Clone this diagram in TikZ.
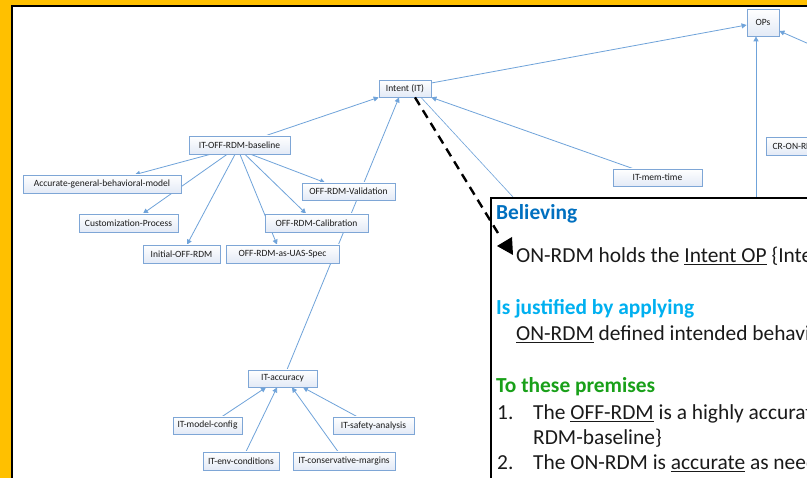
\documentclass[tikz,border=0pt]{standalone}
\usepackage{fontspec}
\setmainfont{Carlito}
\usetikzlibrary{arrows.meta,calc}
\definecolor{frameorange}{HTML}{FFC000}
\definecolor{lineblue}{HTML}{6FA3DA}
\definecolor{boxblue}{HTML}{7EA6D6}
\definecolor{boxfill}{HTML}{E3EAF6}
\definecolor{titleblue}{HTML}{0070C0}
\definecolor{titlecyan}{HTML}{00B0F0}
\definecolor{titlegreen}{HTML}{19A019}
\definecolor{bodytext}{HTML}{1A1A1A}
\pgfdeclarelayer{back}
\pgfdeclarelayer{bg}
\pgfsetlayers{back,bg,main}
\tikzset{
  tbox/.style={draw=boxblue, line width=0.8pt, top color=white, bottom color=boxfill,
    font=\fontsize{9.5}{10}\selectfont, text=bodytext, inner sep=0pt, minimum height=18pt, align=center},
  conn/.style={draw=lineblue, line width=0.8pt, -{Triangle[length=5pt,width=5pt]}},
  plainconn/.style={draw=lineblue, line width=0.6pt},
  bigtitle/.style={font=\fontsize{21.4}{25}\selectfont\bfseries, anchor=base west, inner sep=0pt},
  bodyline/.style={font=\fontsize{21.4}{25}\selectfont, text=bodytext, anchor=base west, inner sep=0pt}
}
\begin{document}
\begin{tikzpicture}[x=1pt,y=-1pt]
\useasboundingbox (0,0) rectangle (807,478);
\clip (0,0) rectangle (807,478);
% frame
\begin{pgfonlayer}{back}
\fill[frameorange] (0,0) rectangle (807,478);
\fill[white] (11,5) rectangle (807,478);
\draw[line width=2pt] (12,478) -- (12,6) -- (807,6);
\end{pgfonlayer}

% nodes
\node[tbox, minimum width=32pt, minimum height=27pt] (ops) at (763,22.5) {OPs};
\node[tbox, minimum width=52pt, minimum height=17pt] (intent) at (405,88.5) {Intent (IT)};
\node[tbox, minimum width=101pt] (base) at (239.5,145) {IT-OFF-RDM-baseline};
\node[tbox, minimum width=158pt] (agbm) at (102,184) {Accurate-general-behavioral-model};
\node[tbox, minimum width=93pt, minimum height=17pt] (val) at (348.5,191.5) {OFF-RDM-Validation};
\node[tbox, minimum width=99pt] (cust) at (128.5,223) {Customization-Process};
\node[tbox, minimum width=103pt] (cal) at (316.5,223) {OFF-RDM-Calibration};
\node[tbox, minimum width=77pt] (init) at (181.5,254) {Initial-OFF-RDM};
\node[tbox, minimum width=113pt] (uas) at (282.5,254) {OFF-RDM-as-UAS-Spec};
\node[tbox, minimum width=69pt, minimum height=17pt] (itacc) at (282.5,378.5) {IT-accuracy};
\node[tbox, minimum width=69pt, minimum height=17pt] (mc) at (207.5,425.5) {IT-model-config};
\node[tbox, minimum width=81pt, minimum height=17pt] (saf) at (373.5,425.5) {IT-safety-analysis};
\node[tbox, minimum width=76pt] (env) at (241,461) {IT-env-conditions};
\node[tbox, minimum width=102pt] (cons) at (344,461) {IT-conservative-margins};
\node[tbox, minimum width=89pt, minimum height=17pt] (mem) at (657.5,177.5) {IT-mem-time};
\node[tbox, minimum width=90pt, anchor=west] (cr) at (766,146) {\hspace*{-30pt}CR-ON-RDM};

% big text box
\node[draw=black, line width=2pt, fill=white, anchor=north west, minimum width=340pt, minimum height=300pt, inner sep=0pt] (tbx) at (490,197) {};
\coordinate (boxtopA) at (756,197);
\coordinate (boxtopB) at (513,197);
\coordinate (rightin) at (809,44);

% connectors (behind boxes)
\begin{pgfonlayer}{bg}
\draw[conn] ([xshift=-29.5pt]base.south) -- ([xshift=33pt]agbm.north);
\draw[conn] ([xshift=-12.5pt]base.south) -- ([xshift=14.5pt]cust.north);
\draw[conn] ([xshift=-4.5pt]base.south) -- ([xshift=5.5pt]init.north);
\draw[conn] ([xshift=0.5pt]base.south) -- ([xshift=-5.5pt]uas.north);
\draw[conn] ([xshift=5.5pt]base.south) -- ([xshift=-10.5pt]cal.north);
\draw[conn] ([xshift=11.5pt]base.south) -- ([xshift=-23.5pt]val.north);
\draw[conn] ([xshift=26.5pt]base.north) -- (intent.south west);
\draw[conn] ([xshift=4.5pt]itacc.north) -- ([xshift=-6pt]intent.south);
\draw[conn] ([yshift=5.5pt]intent.east) -- ([yshift=-2.5pt]ops.west);
\draw[conn] ([xshift=-24.5pt]mem.north) -- (intent.south east);
\draw[conn] (boxtopA) -- ([xshift=-7pt]ops.south);
\draw[conn] (rightin) -- ([yshift=-8.5pt]ops.east);
\draw[plainconn] (boxtopB) -- ([xshift=16pt]intent.south);
\draw[conn] ([xshift=14.5pt]mc.north) -- ([xshift=-16.5pt]itacc.south);
\draw[conn] ([xshift=5pt]env.north) -- ([xshift=-5.5pt]itacc.south);
\draw[conn] ([xshift=-6pt]cons.north) -- ([xshift=9.5pt]itacc.south);
\draw[conn] ([xshift=-16.5pt]saf.north) -- ([xshift=20.5pt]itacc.south);
\end{pgfonlayer}

% box text
\node[bigtitle, text=titleblue] (t1) at (496,220) {Believing};
\node[bodyline] (l1) at (516,263) {ON-RDM holds the \underline{Intent OP} \{Intent (IT)\}};
\node[bigtitle, text=titlecyan] (t2) at (496,315) {Is justified by applying};
\node[bodyline] (l2) at (516,341) {\underline{ON-RDM} defined intended behavior};
\node[bigtitle, text=titlegreen] (t3) at (496,393) {To these premises};
\node[bodyline] (n1) at (497,420) {1.};
\node[bodyline] (l3) at (533,420) {The \underline{OFF-RDM} is a highly accurate};
\node[bodyline] (l4) at (533,445) {RDM-baseline\}};
\node[bodyline] (n2) at (497,470) {2.};
\node[bodyline] (l5) at (533,470) {The ON-RDM is \underline{accurate} as needed};

% dashed pointer
\coordinate (dashend) at (501,238);
\draw[line width=2.4pt, dash pattern=on 9pt off 6pt] ([xshift=10pt]intent.south) -- (dashend);
\fill (497,246) -- (512,237) -- (513,255) -- cycle;
\end{tikzpicture}
\end{document}
